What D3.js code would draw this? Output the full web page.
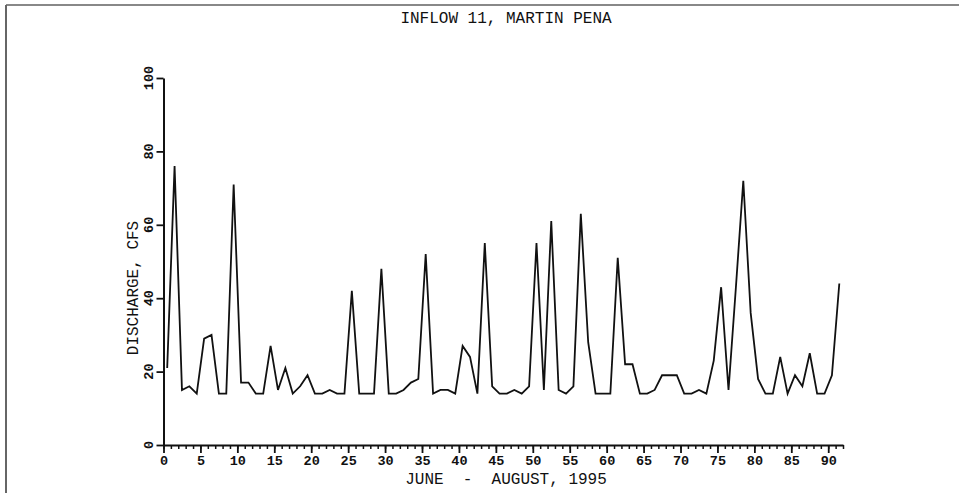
<!DOCTYPE html>
<html>
<head>
<meta charset="utf-8">
<script src="https://cdn.jsdelivr.net/npm/d3@7"></script>
<style>
	body { margin: 0; background: #fff; }
	svg text { font-family: "Liberation Mono", "DejaVu Sans Mono", monospace; fill: #111; }
</style>
</head>
<body>
<svg id="vis" width="959" height="493"></svg>
<script>
// Daily mean discharge, plotted at mid-day (day of record, June 1 = 0)
const days = [0.5, 1.5, 2.5, 3.5, 4.5, 5.5, 6.5, 7.5, 8.5, 9.5,
	10.5, 11.5, 12.5, 13.5, 14.5, 15.5, 16.5, 17.5, 18.5, 19.5,
	20.5, 21.5, 22.5, 23.5, 24.5, 25.5, 26.5, 27.5, 28.5, 29.5,
	30.5, 31.5, 32.5, 33.5, 34.5, 35.5, 36.5, 37.5, 38.5, 39.5,
	40.5, 41.5, 42.5, 43.5, 44.5, 45.5, 46.5, 47.5, 48.5, 49.5,
	50.5, 51.5, 52.5, 53.5, 54.5, 55.5, 56.5, 57.5, 58.5, 59.5,
	60.5, 61.5, 62.5, 63.5, 64.5, 65.5, 66.5, 67.5, 68.5, 69.5,
	70.5, 71.5, 72.5, 73.5, 74.5, 75.5, 76.5, 77.5, 78.5, 79.5,
	80.5, 81.5, 82.5, 83.5, 84.5, 85.5, 86.5, 87.5, 88.5, 89.5,
	90.5, 91.5];

const discharge = [21, 76, 15, 16, 14, 29, 30, 14, 14, 71,
	17, 17, 14, 14, 27, 15, 21, 14, 16, 19,
	14, 14, 15, 14, 14, 42, 14, 14, 14, 48,
	14, 14, 15, 17, 18, 52, 14, 15, 15, 14,
	27, 24, 14, 55, 16, 14, 14, 15, 14, 16,
	55, 15, 61, 15, 14, 16, 63, 28, 14, 14,
	14, 51, 22, 22, 14, 14, 15, 19, 19, 19,
	14, 14, 15, 14, 23, 43, 15, 43, 72, 36,
	18, 14, 14, 24, 14, 19, 16, 25, 14, 14,
	19, 44];

const xTicks = [0, 5, 10, 15, 20, 25, 30, 35, 40, 45, 50, 55, 60, 65, 70, 75, 80, 85, 90];
const yTicks = [0, 20, 40, 60, 80, 100];

const title = "INFLOW 11, MARTIN PENA";
const xLabel = "JUNE  -  AUGUST, 1995";
const yLabel = "DISCHARGE, CFS";

const svg = d3.select("svg#vis");

const x = d3.scaleLinear().domain([0, 92]).range([163.5, 843]);
const y = d3.scaleLinear().domain([0, 100]).range([445, 78]);

// page frame (top and left edges only)
svg.append("line")
	.attr("x1", 6).attr("x2", 959).attr("y1", 5).attr("y2", 5)
	.attr("stroke", "#888").attr("stroke-width", 2);
svg.append("line")
	.attr("x1", 6).attr("x2", 6).attr("y1", 5).attr("y2", 493)
	.attr("stroke", "#666").attr("stroke-width", 2);

// minor ticks, every day
svg.append("g")
	.attr("transform", translate(0, y(0)))
	.call(d3.axisBottom(x).tickValues(d3.range(0, 93)).tickSize(4).tickFormat(""))
	.call(g => g.select(".domain").remove())
	.call(g => g.selectAll("line").attr("stroke", "#111").attr("stroke-width", 1.5));

// major ticks with labels
const xAxis = svg.append("g")
	.attr("transform", translate(0, y(0)))
	.call(d3.axisBottom(x).tickValues(xTicks).tickSize(8).tickPadding(2).tickSizeOuter(0));
xAxis.select(".domain").attr("stroke", "#111").attr("stroke-width", 2);
xAxis.selectAll("line").attr("stroke", "#111").attr("stroke-width", 1.8);
xAxis.selectAll("text")
	.attr("font-size", 13.5)
	.attr("font-weight", "bold")
	.style("font-family", "'Liberation Mono', monospace");

// y axis
const yAxis = svg.append("g")
	.attr("transform", translate(x(0), 0))
	.call(d3.axisLeft(y).tickValues(yTicks).tickSize(7).tickSizeOuter(0).tickFormat(""));
yAxis.select(".domain").attr("stroke", "#111").attr("stroke-width", 2);
yAxis.selectAll("line").attr("stroke", "#111").attr("stroke-width", 1.8);

// rotated y tick labels
svg.append("g").selectAll("text")
	.data(yTicks)
	.enter()
	.append("text")
	.attr("transform", d => translate(153, y(d)) + " rotate(-90)")
	.attr("text-anchor", "middle")
	.attr("font-size", 13.5)
	.attr("font-weight", "bold")
	.text(d => d);

// the series
svg.append("path")
	.datum(days.map((d, i) => [d, discharge[i]]))
	.attr("fill", "none")
	.attr("stroke", "#111")
	.attr("stroke-width", 1.8)
	.attr("stroke-linejoin", "miter")
	.attr("d", d3.line().x(d => x(d[0])).y(d => y(d[1])));

// titles
svg.append("text")
	.attr("x", 506).attr("y", 23)
	.attr("text-anchor", "middle")
	.attr("font-size", 16)
	.style("white-space", "pre")
	.text(title);

svg.append("text")
	.attr("x", 506).attr("y", 484)
	.attr("text-anchor", "middle")
	.attr("font-size", 16)
	.style("white-space", "pre")
	.text(xLabel);

svg.append("text")
	.attr("transform", translate(138, 288) + " rotate(-90)")
	.attr("text-anchor", "middle")
	.attr("font-size", 16)
	.text(yLabel);

function translate(tx, ty) {
	return "translate(" + tx + "," + ty + ")";
}
</script>
</body>
</html>
